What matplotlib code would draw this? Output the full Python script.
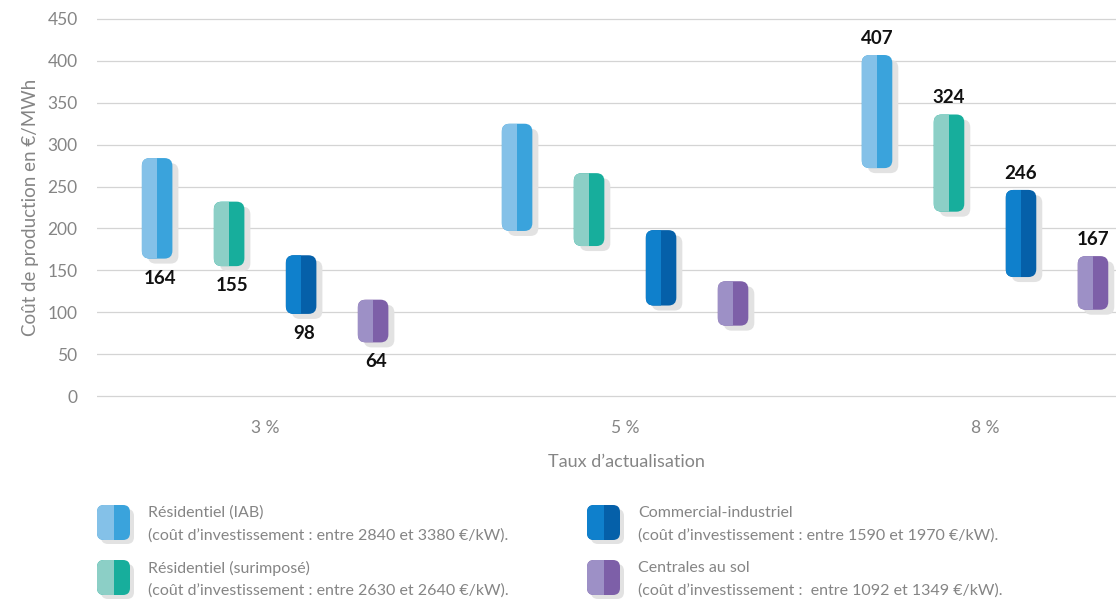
import matplotlib
matplotlib.use("Agg")
import matplotlib.pyplot as plt
from matplotlib.patches import FancyBboxPatch, Rectangle
from matplotlib.transforms import offset_copy

plt.rcParams["font.family"] = ["Lato", "DejaVu Sans"]

# discount rates (x categories)
categories = ["3 %", "5 %", "8 %"]

series_names = [
    "Résidentiel (IAB)",
    "Résidentiel (surimposé)",
    "Commercial-industriel",
    "Centrales au sol",
]
series_notes = [
    "(coût d’investissement : entre 2840 et 3380 €/kW).",
    "(coût d’investissement : entre 2630 et 2640 €/kW).",
    "(coût d’investissement : entre 1590 et 1970 €/kW).",
    "(coût d’investissement :  entre 1092 et 1349 €/kW).",
]

# min / max production cost (€/MWh) per series, for 3 %, 5 %, 8 %
low_iab = [164, 197, 272]
high_iab = [284, 325, 407]
low_surimpose = [155, 179, 220]
high_surimpose = [232, 266, 336]
low_commercial = [98, 108, 142]
high_commercial = [168, 198, 246]
low_sol = [64, 84, 103]
high_sol = [115, 137, 167]

# printed values: minimum at 3 %, maximum at 8 %
labels_low = [164, 155, 98, 64]
labels_high = [407, 324, 246, 167]

lows = [low_iab, low_surimpose, low_commercial, low_sol]
highs = [high_iab, high_surimpose, high_commercial, high_sol]

light_colors = ["#84c1e8", "#8ccfc6", "#0f80cc", "#9d90c6"]
dark_colors = ["#3aa3dc", "#17ae9c", "#0560a9", "#7d5fa8"]
shadow_color = "#e2e2e2"
grey = "#858585"

fig = plt.figure(figsize=(11.16, 6.01), dpi=100)

# main axes
ax = fig.add_axes([97 / 1116, (601 - 397.7) / 601, 1 - 97 / 1116, (397.7 - 17.3) / 601])
ax.set_xlim(-0.467, 2.364)
ax.set_ylim(-2, 452)

bar_w = 0.085
offsets = [-0.3, -0.1, 0.1, 0.3]
# corner radius in x units, stretched in y by the aspect
rounding = 0.022
aspect = 430
shadow_tr = offset_copy(ax.transData, x=6, y=-5, units="dots")

for i in range(len(series_names)):
    for j in range(len(categories)):
        x0 = j + offsets[i] - bar_w / 2
        lo = lows[i][j]
        hi = highs[i][j]
        style = f"round,pad=0,rounding_size={rounding}"
        shadow = FancyBboxPatch((x0, lo), bar_w, hi - lo, boxstyle=style,
                                mutation_aspect=aspect, fc=shadow_color,
                                ec="none", transform=shadow_tr, zorder=2)
        ax.add_patch(shadow)
        body = FancyBboxPatch((x0, lo), bar_w, hi - lo, boxstyle=style,
                              mutation_aspect=aspect, fc=dark_colors[i],
                              ec="none", zorder=3)
        ax.add_patch(body)
        left = Rectangle((x0, lo), bar_w / 2, hi - lo, fc=light_colors[i],
                         ec="none", zorder=4)
        ax.add_patch(left)
        left.set_clip_path(body)

    # value labels
    ax.annotate(str(labels_low[i]), (0 + offsets[i], lows[i][0]),
                xytext=(2, -14), textcoords="offset points", ha="center",
                va="center", fontsize=13.5, fontweight="bold", color="#111111")
    ax.annotate(str(labels_high[i]), (2 + offsets[i], highs[i][2]),
                xytext=(0, 12), textcoords="offset points", ha="center",
                va="center", fontsize=13.5, fontweight="bold", color="#111111")

ax.set_yticks(range(0, 451, 50))
ax.set_xticks(range(len(categories)))
ax.set_xticklabels(categories)
ax.grid(axis="y", color="#d4d4d4", linewidth=0.9)
ax.set_axisbelow(True)
for s in ax.spines.values():
    s.set_visible(False)
ax.tick_params(axis="y", length=0, pad=14, labelsize=12.5, labelcolor=grey)
ax.tick_params(axis="x", length=0, pad=16, labelsize=12.5, labelcolor=grey)
ax.set_ylabel("Coût de production en €/MWh", fontsize=13.5, color=grey, labelpad=6)
ax.set_xlabel("Taux d’actualisation", fontsize=13, color=grey, labelpad=12)
ax.xaxis.set_label_coords(0.52, -0.147)

# legend drawn in pixel coordinates
lax = fig.add_axes([0, 0, 1, 1], zorder=-1)
lax.set_xlim(0, 1116)
lax.set_ylim(601, 0)
lax.axis("off")

legend_x = [97, 97, 587, 587]
legend_y = [505, 560, 505, 560]
for i in range(len(series_names)):
    x0, y0 = legend_x[i], legend_y[i]
    style = "round,pad=0,rounding_size=7"
    lax.add_patch(FancyBboxPatch((x0 + 4, y0 + 4), 33, 35, boxstyle=style,
                                 fc=shadow_color, ec="none"))
    body = FancyBboxPatch((x0, y0), 33, 35, boxstyle=style,
                          fc=dark_colors[i], ec="none")
    lax.add_patch(body)
    left = Rectangle((x0, y0), 16.5, 35, fc=light_colors[i], ec="none")
    lax.add_patch(left)
    left.set_clip_path(body)
    lax.text(x0 + 51, y0 + 8, series_names[i], fontsize=11.5, color=grey,
             va="center", ha="left")
    lax.text(x0 + 51, y0 + 31, series_notes[i], fontsize=11.5, color=grey,
             va="center", ha="left")

fig.savefig("out.png", dpi=100)
